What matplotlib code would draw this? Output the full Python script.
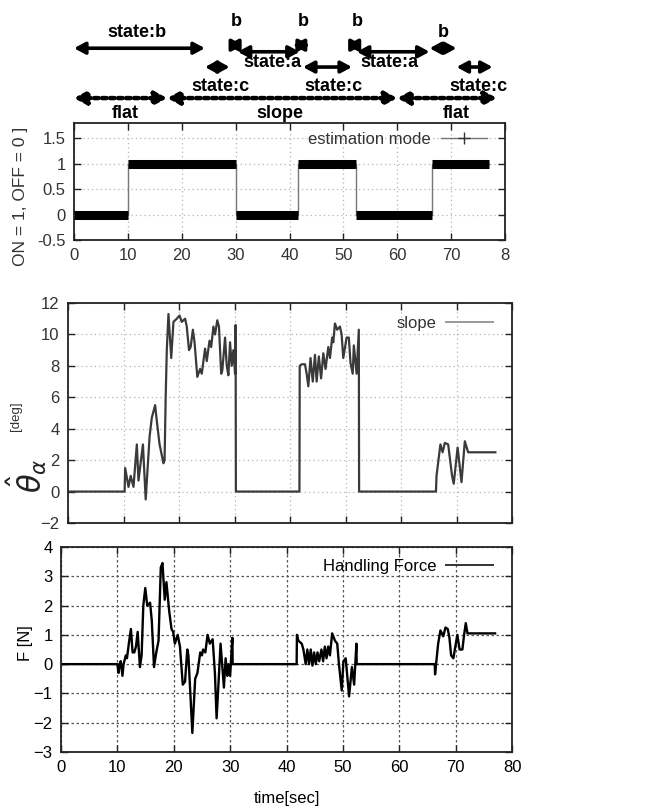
import numpy as np
import matplotlib as mpl
mpl.use('Agg')
import matplotlib.pyplot as plt  # noqa
from matplotlib.lines import Line2D  # noqa

plt.rcParams['font.family'] = ['Liberation Sans', 'DejaVu Sans']

# estimation mode: (start, end, value)
mode_segments = [(0, 10, 0), (10, 30, 1), (30, 41.5, 0),
                 (41.5, 52.3, 1), (52.3, 66.4, 0), (66.4, 77, 1)]

# state annotations above the top panel
state_names = ['state:b', 'state:c', 'b', 'state:a', 'b',
               'state:c', 'b', 'state:a', 'b', 'state:c']
state_start = [0, 24.3, 28.4, 30.4, 40.6, 42.5, 50.6, 52.5, 66.0, 71.0]
state_end = [24.3, 28.9, 31.4, 41.9, 43.8, 51.6, 53.6, 66.0, 71.0, 77.7]

road_names = ['flat', 'slope', 'flat']
road_start = [0, 17.3, 60.0]
road_end = [17.3, 60.0, 78.5]

# estimated slope angle [deg]
theta = [(0, 0), (10.2, 0), (10.3, 1.5), (10.9, 0.3), (11.3, 1.0),
         (11.8, 0.3), (12.4, 3.0), (12.7, 0.7), (13.5, 3.0), (14.0, -0.5),
         (14.7, 3.5), (15.1, 4.7), (15.7, 5.5), (16.0, 4.5), (16.5, 3.0),
         (17.2, 1.8), (17.4, 2.0), (17.6, 6.0), (17.8, 9.0), (18.1, 11.3),
         (18.6, 8.5), (19.0, 10.8), (19.6, 11.0), (20.1, 11.2), (20.5, 10.8),
         (21.1, 11.0), (21.4, 10.5), (21.8, 9.0), (22.1, 9.2), (22.5, 10.3),
         (22.8, 9.5), (23.3, 7.3), (23.8, 7.8), (24.1, 7.5), (24.7, 9.1),
         (25.0, 8.3), (25.5, 9.6), (25.8, 9.2), (26.2, 10.5), (26.5, 10.0),
         (26.9, 10.9), (27.2, 10.5), (27.6, 7.5), (27.8, 7.7), (28.3, 9.8),
         (28.6, 8.0), (28.9, 7.4), (29.2, 9.5), (29.5, 8.0), (29.8, 9.0),
         (30.1, 7.5), (30.2, 10.6), (30.25, 0), (41.7, 0), (41.75, 8.0),
         (42.1, 8.1), (42.7, 8.1), (43.0, 7.5), (43.3, 6.7), (43.7, 8.5),
         (44.1, 7.0), (44.5, 8.7), (44.8, 7.0), (45.2, 8.6), (45.6, 7.2),
         (46.0, 8.8), (46.4, 7.8), (46.9, 9.2), (47.2, 8.5), (47.6, 9.8),
         (47.8, 9.5), (48.1, 10.7), (48.5, 10.3), (49.0, 10.5), (49.3, 10.0),
         (49.6, 8.5), (50.2, 9.8), (50.6, 9.8), (50.9, 8.2), (51.3, 7.5),
         (51.5, 9.3), (52.0, 7.5), (52.4, 10.3), (52.45, 0), (66.3, 0),
         (66.4, 1.0), (67.1, 3.0), (67.5, 2.5), (67.9, 3.1), (68.5, 3.0),
         (69.2, 1.0), (69.5, 0.5), (70.2, 2.8), (70.9, 0.6), (71.5, 3.2),
         (72.1, 2.5), (77.0, 2.5)]

# handling force [N]
force = [(0, 0), (10.0, 0), (10.2, -0.3), (10.4, 0), (10.6, 0.1),
         (10.9, -0.4), (11.1, 0), (11.5, 0.3), (11.7, 0.2), (12.1, 0.8),
         (12.4, 1.2), (12.7, 0.4), (13.0, 0.4), (13.3, 0.6), (13.6, 1.1),
         (13.8, 0.5), (14.0, -0.1), (14.3, 0.3), (14.6, 2.0), (14.95, 2.6),
         (15.3, 2.0), (15.8, 2.1), (16.1, 1.5), (16.5, -0.1), (16.9, 0.4),
         (17.3, 0.8), (17.7, 3.3), (18.0, 3.45), (18.4, 2.2), (18.7, 2.8),
         (19.2, 1.8), (19.6, 1.2), (19.9, 1.1), (20.2, 0.7), (20.7, 1.0),
         (21.1, 0.6), (21.6, -0.7), (22.0, -0.6), (22.4, 0.5), (22.6, 0.3),
         (23.3, -2.35), (23.8, -0.5), (24.2, -0.3), (24.7, 0.4), (25.0, 0.3),
         (25.2, 0.5), (25.6, 0.4), (26.0, 1.0), (26.4, 0.7), (26.9, 0.85),
         (27.3, -0.3), (27.6, -1.85), (27.9, -0.8), (28.3, 0.7), (28.9, -0.8),
         (29.2, 0.2), (29.5, -0.4), (29.7, 0), (30.0, -0.4), (30.4, 0.9),
         (30.45, 0), (41.8, 0), (41.85, 1.0), (42.1, 0.8), (42.7, 0.7),
         (43.0, 0.5), (43.4, 0), (43.7, 0.5), (44.0, 0), (44.3, 0.5),
         (44.6, -0.05), (44.9, 0.4), (45.2, 0), (45.5, 0.4), (45.8, 0.1),
         (46.2, 0.5), (46.5, 0.1), (46.8, 0.6), (47.1, 0.2), (47.4, 0.6),
         (47.7, 0.3), (48.1, 1.05), (48.6, 0.8), (49.0, 0.7), (49.3, 0),
         (49.8, -0.9), (50.1, 0.1), (50.5, 0.2), (51.1, -1.1), (51.6, -0.1),
         (52.0, -0.7), (52.4, 0.7), (52.45, 0), (66.3, 0), (66.35, -0.35),
         (66.9, 0.7), (67.3, 1.15), (67.8, 0.95), (68.2, 1.25), (68.6, 1.2),
         (68.9, 0.9), (69.2, 0.3), (69.6, 0.2), (70.3, 1.0), (70.7, 0.5),
         (71.2, 0.5), (71.5, 1.0), (71.8, 1.4), (72.1, 1.05), (77.0, 1.05)]

x_ticks = list(range(0, 81, 10))
top_xticklabels = ['0', '10', '20', '30', '40', '50', '60', '70', '8']
top_yticks = [-0.5, 0, 0.5, 1, 1.5]
top_yticklabels = ['-0.5', '0', '0.5', '1', '1.5']
mid_yticks = list(range(-2, 13, 2))
bot_yticks = list(range(-3, 5))

# layout of the annotation rows (top-axes data coords)
state_arrow_y = [3.27, 2.9, 3.33, 3.2, 3.33, 2.9, 3.33, 3.2, 3.27, 2.9]
state_label_xy = [(11.7, 3.57), (27.1, 2.51), (30.2, 3.8), (36.9, 2.98),
                  (42.5, 3.8), (48.1, 2.51), (52.5, 3.8), (58.6, 2.98),
                  (68.5, 3.57), (75.0, 2.51)]
road_arrow_y = 2.29
road_label_x = [9.5, 38.2, 71.0]
road_label_y = 1.98


def style_axes(ax, grid_color, grid_ls, tick_color):
    ax.set_xlim(0, 80)
    ax.set_xticks(x_ticks)
    ax.tick_params(direction='in', top=True, right=True, length=5,
                   width=1, labelsize=12, colors='#222',
                   labelcolor=tick_color, pad=6)
    ax.grid(True, color=grid_color, ls=grid_ls, lw=0.9)
    for s in ax.spines.values():
        s.set_linewidth(1.3)
        s.set_color('#222')


fig = plt.figure(figsize=(6.45, 8.07), dpi=100)
ax1 = fig.add_axes([74 / 645, 1 - 240 / 807, 431 / 645, 117 / 807])
ax2 = fig.add_axes([68 / 645, 1 - 523 / 807, 444 / 645, 220 / 807])
ax3 = fig.add_axes([61 / 645, 1 - 752 / 807, 451 / 645, 205 / 807])

# --- top: estimation mode
style_axes(ax1, '#b5b5b5', (0, (1, 2.5)), '#333')
ax1.set_ylim(-0.5, 1.8)
ax1.set_yticks(top_yticks)
ax1.set_yticklabels(top_yticklabels)
ax1.set_xticklabels(top_xticklabels)
st_x = []
st_y = []
for a, b, v in mode_segments:
    st_x += [a, b]
    st_y += [v, v]
ax1.plot(st_x, st_y, color='#777', lw=1.0, zorder=3)
for a, b, v in mode_segments:
    ax1.plot([a, b], [v, v], color='k', lw=6.5, solid_capstyle='butt',
             zorder=4)
h1 = Line2D([], [], color='#777', lw=1.0, marker='+', ms=9, mec='#333')
ax1.legend([h1], ['estimation mode'], loc='center right',
           bbox_to_anchor=(0.958, 0.863), frameon=False, markerfirst=False,
           borderpad=0, borderaxespad=0, handlelength=2.75,
           handletextpad=0.6, fontsize=12, labelcolor='#333')

for i in range(len(state_names)):
    y = state_arrow_y[i]
    ax1.annotate('', xy=(state_start[i], y), xytext=(state_end[i], y),
                 annotation_clip=False,
                 arrowprops=dict(arrowstyle='<|-|>,head_length=0.65,'
                                 'head_width=0.35',
                                 color='k', lw=2.6, shrinkA=0, shrinkB=0))
    lx, ly = state_label_xy[i]
    ax1.text(lx, ly, state_names[i], ha='center', va='center',
             fontsize=13, fontweight='bold', clip_on=False)

for i in range(len(road_names)):
    ax1.annotate('', xy=(road_start[i], road_arrow_y),
                 xytext=(road_end[i], road_arrow_y), annotation_clip=False,
                 arrowprops=dict(arrowstyle='<|-|>,head_length=0.7,'
                                 'head_width=0.38',
                                 color='k', lw=3.2, ls=(0, (1, 0.8)),
                                 shrinkA=0, shrinkB=0))
    ax1.text(road_label_x[i], road_label_y, road_names[i], ha='center',
             va='center', fontsize=13, fontweight='bold', clip_on=False,
             zorder=10)

fig.text(0.032, 0.757, 'ON = 1, OFF = 0 ]', rotation=90, ha='center',
         va='center', fontsize=12.5, color='#333')

# --- middle: slope estimate
style_axes(ax2, '#b5b5b5', (0, (1, 2.5)), '#333')
ax2.set_ylim(-2, 12)
ax2.set_yticks(mid_yticks)
ax2.set_xticklabels([])
th = np.array(theta).T
ax2.plot(th[0], th[1], color='#3a3a3a', lw=1.6)
h2 = Line2D([], [], color='#999', lw=1.4)
ax2.legend([h2], ['slope'], loc='center right',
           bbox_to_anchor=(0.957, 0.909), frameon=False, markerfirst=False,
           borderpad=0, borderaxespad=0, handlelength=2.8,
           handletextpad=0.6, fontsize=12, labelcolor='#333')
fig.text(0.041, 0.41, r'$\hat{\theta}_{\alpha}$', rotation=90, ha='center',
         va='center', fontsize=22, color='#222')
fig.text(0.025, 0.484, '[deg]', rotation=90, ha='center', va='center',
         fontsize=9.5, color='#333')

# --- bottom: handling force
style_axes(ax3, '#555', (0, (2, 2)), 'k')
ax3.set_ylim(-3, 4)
ax3.set_yticks(bot_yticks)
fo = np.array(force).T
ax3.plot(fo[0], fo[1], color='k', lw=1.7)
h3 = Line2D([], [], color='#333', lw=1.4)
ax3.legend([h3], ['Handling Force'], loc='center right',
           bbox_to_anchor=(0.958, 0.907), frameon=False, markerfirst=False,
           borderpad=0, borderaxespad=0, handlelength=2.8,
           handletextpad=0.6, fontsize=12)
fig.text(0.04, 0.203, 'F [N]', rotation=90, ha='center', va='center',
         fontsize=12)
fig.text(0.445, 0.011, 'time[sec]', ha='center', va='center', fontsize=12)

fig.savefig('out.png', dpi=100)
